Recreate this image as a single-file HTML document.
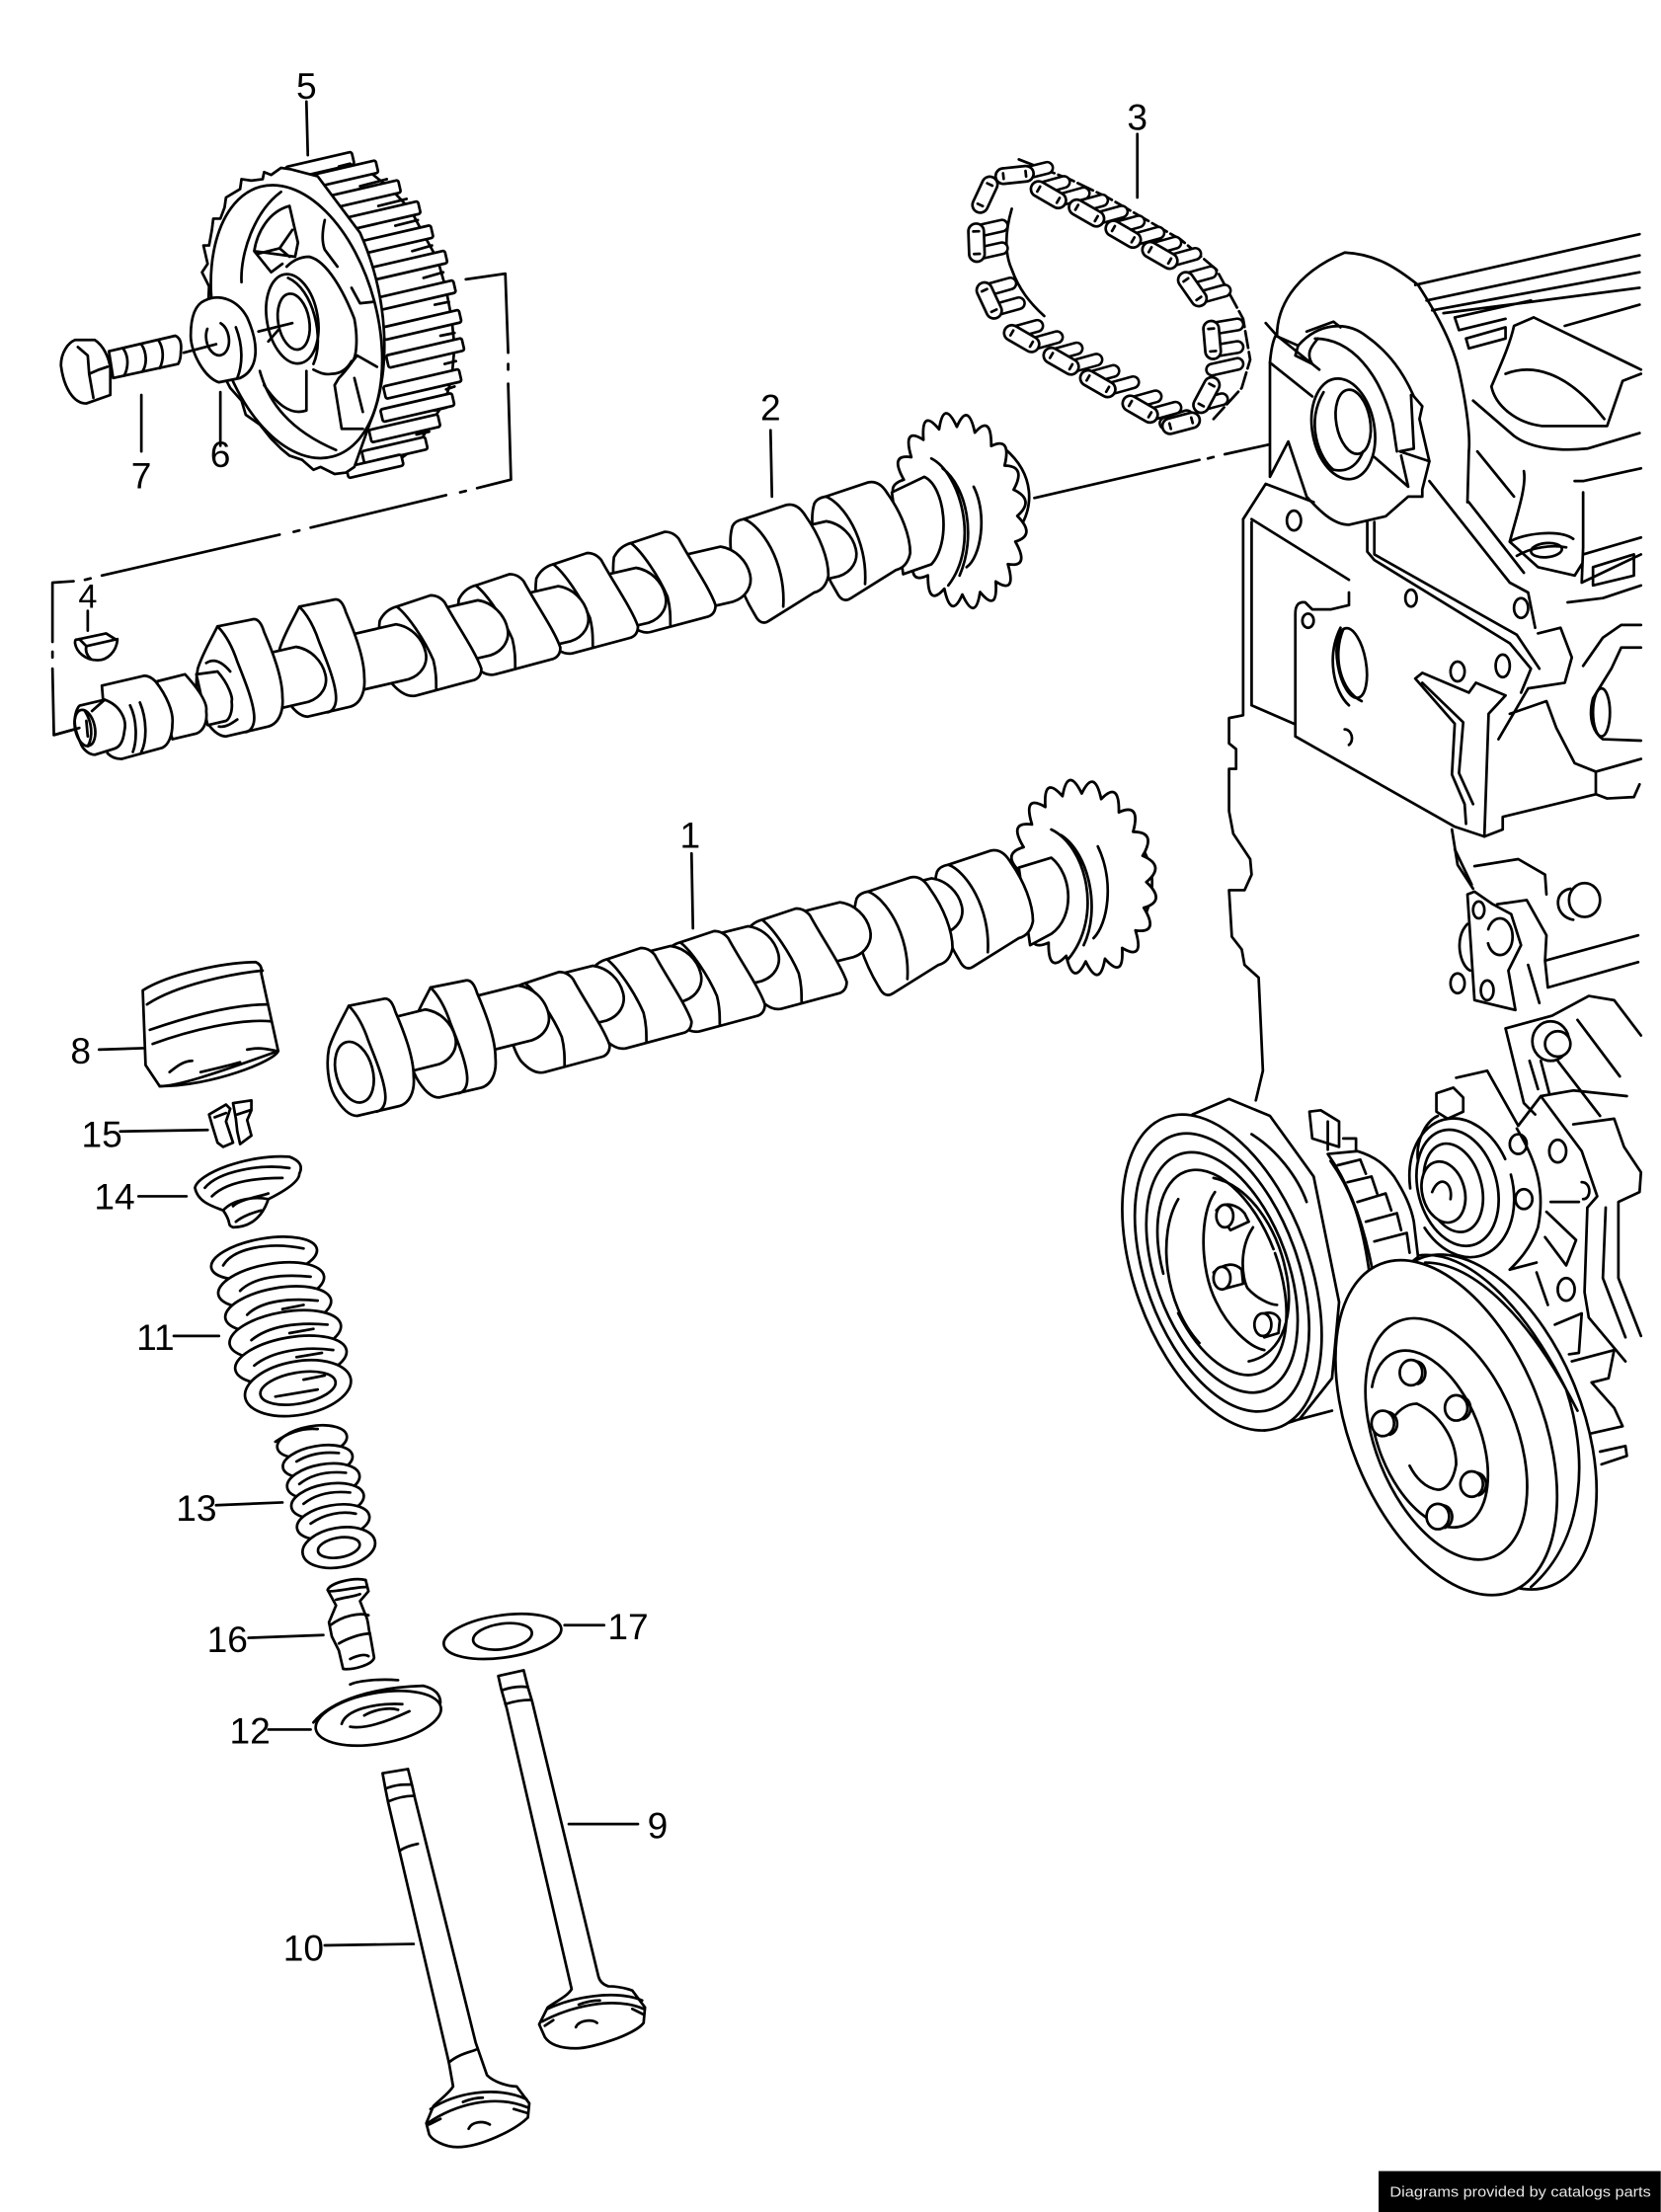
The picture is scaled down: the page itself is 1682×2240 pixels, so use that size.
<!DOCTYPE html>
<html><head><meta charset="utf-8"><style>
html,body{margin:0;padding:0;background:#fff}
svg{display:block}
.d path,.d ellipse,.d line,.d rect,.d polyline{fill:none;stroke:#000;stroke-width:1.9;stroke-linejoin:round;stroke-linecap:round}
.d .w{fill:#fff}
.d path.ro{stroke-width:10;stroke-linecap:round}
.d path.ri{stroke:#fff;stroke-width:6.4;stroke-linecap:round}
text{font-family:"Liberation Sans",sans-serif;font-size:26px;fill:#000;text-anchor:middle}
</style></head><body>
<svg class="d" width="1682" height="2240" viewBox="0 0 1177 1568" xmlns="http://www.w3.org/2000/svg">
<defs>
<path id="gear" class="w" vector-effect="non-scaling-stroke" style="stroke-width:2.8" d="M87,-13.8Q118,0 87,13.8Q112,36.5 78.4,40Q95.5,69.4 62.2,62.2Q69.4,95.5 40,78.4Q36.5,112 13.8,87Q0,118 -13.8,87Q-36.5,112 -40,78.4Q-69.4,95.5 -62.2,62.2Q-95.5,69.4 -78.4,40Q-112,36.5 -87,13.8Q-118,0 -87,-13.8Q-112,-36.5 -78.4,-40Q-95.5,-69.4 -62.2,-62.2Q-69.4,-95.5 -40,-78.4Q-36.5,-112 -13.8,-87Q0,-118 13.8,-87Q36.5,-112 40,-78.4Q69.4,-95.5 62.2,-62.2Q95.5,-69.4 78.4,-40Q112,-36.5 87,-13.8Z"/>
<g id="L"><path class="w" d="M0,0L25,-5Q30,-6 33,4C39,18 46,36 46,50C47,61 43,69 36,71L6,78Q-2,78 -10,64C-15,55 -16,40 -14,30C-11,20 -4,8 0,0Z"/><path d="M0,0C5,5 10,13 14,25C20,40 26,55 26,65C26,70 24,74 20,75"/></g>
<g id="R"><path class="w" d="M0,0L24,-8Q30,-8 34,-3C42,12 56,32 60,44Q60,50 55,52L14,63Q6,65 -3,55C-10,45 -14,25 -12,10Q-8,2 0,0Z"/><path d="M0,0C8,6 20,24 26,38C28,46 28,52 28,58"/></g>
<g id="D"><path class="w" d="M0,0L30,-10Q38,-12 44,-2C54,12 60,28 60,40Q58,50 50,52L18,72Q12,76 8,68C0,55 -14,25 -8,5Q-6,1 0,0Z"/><path d="M0,0C12,4 30,30 28,62"/></g>
<path id="sh" class="w" d="M-40,-20H0C10,-16 16,-6 16,4C16,12 10,19 0,20H-40Z"/>
<g id="link"><rect class="w" x="-13.5" y="-5.5" width="27" height="11" rx="5.5"/><path d="M-8,-2v4M8,-2v4"/></g>
<g id="pb"><ellipse class="w" cx="0" cy="0" rx="8" ry="9"/><path d="M4,-8C11,-7 13,5 5,8"/></g>
</defs>

<!-- Part 5 gear -->
<path d="M245,118L262,122L277,134L291,149L300,166L310,184L316,205L320,226L322,246L320,268L315,285L305,300L296,316L280,328L255,334"/>
<g>
<rect class="w" x="-48" y="-4.5" width="48" height="9" rx="1.5" transform="translate(250,112) rotate(-13)"/>
<rect class="w" x="-50" y="-4.5" width="50" height="9" rx="1.5" transform="translate(267,118) rotate(-13)"/>
<rect class="w" x="-52" y="-4.5" width="52" height="9" rx="1.5" transform="translate(283,132) rotate(-13)"/>
<rect class="w" x="-60" y="-4.5" width="60" height="9" rx="1.5" transform="translate(297,147) rotate(-13)"/>
<rect class="w" x="-56" y="-4.5" width="56" height="9" rx="1.5" transform="translate(306,164) rotate(-13)"/>
<rect class="w" x="-58" y="-4.5" width="58" height="9" rx="1.5" transform="translate(316,182) rotate(-13)"/>
<rect class="w" x="-58" y="-4.5" width="58" height="9" rx="1.5" transform="translate(322,203) rotate(-13)"/>
<rect class="w" x="-56" y="-4.5" width="56" height="9" rx="1.5" transform="translate(326,224) rotate(-13)"/>
<rect class="w" x="-55" y="-4.5" width="55" height="9" rx="1.5" transform="translate(328,244) rotate(-13)"/>
<rect class="w" x="-55" y="-4.5" width="55" height="9" rx="1.5" transform="translate(326,266) rotate(-13)"/>
<rect class="w" x="-52" y="-4.5" width="52" height="9" rx="1.5" transform="translate(321,283) rotate(-13)"/>
<rect class="w" x="-50" y="-4.5" width="50" height="9" rx="1.5" transform="translate(311,298) rotate(-13)"/>
<rect class="w" x="-46" y="-4.5" width="46" height="9" rx="1.5" transform="translate(302,314) rotate(-13)"/>
<rect class="w" x="-40" y="-4" width="40" height="8" rx="1.5" transform="translate(285,326) rotate(-13)"/>
</g>
<path d="M240,118L248,116M255,132L274,127M268,146L288,141M280,160L296,156M292,178L306,174M300,197L314,193M308,216L318,214M312,238L322,236M315,258L323,256M316,276L322,274M308,291L316,289M295,308L304,306"/>
<path class="w" d="M206,120L199,119L192,124L187,122L186,127L178,128L171,127L170,134L160,140L159,147L156,155L151,155L150,163L148,174L144,174L147,187L143,193L148,203L147,225L150,250L163,275L171,284L174,294L184,301L192,311L199,318L205,323L214,326L222,333L227,331L237,336L245,335L251,331L262,300C278,262 275,210 255,165L225,125Z"/>
<ellipse class="w" cx="210" cy="228" rx="57" ry="99" transform="rotate(-15 210 228)"/>
<path d="M171,200C170,180 180,150 199,136M205,146L211,172L209,182L180,178L192,193L200,187M205,146C190,150 182,165 180,178M182,180L198,176L207,163M198,176L205,182"/>
<path d="M230,156C228,165 228,172 230,177L239,189M249,204L255,215L264,214M203,189C208,184 214,182 219,182C232,185 244,208 251,226C254,242 252,256 249,256C245,263 240,265 235,265C230,266 226,264 222,262"/>
<ellipse cx="207" cy="226" rx="18" ry="32" transform="rotate(-10 207 226)"/>
<path d="M204,197C222,205 230,240 222,258"/>
<ellipse cx="208" cy="228" rx="11" ry="20" transform="rotate(-10 208 228)"/>
<path d="M253,252L267,260M253,252C248,258 246,262 240,268L237,273L242,304L257,304M251,268L257,292M187,273C195,285 205,295 217,291L217,263M184,263C190,285 205,305 238,319"/>
<path d="M183,235L207,229M190,242L197,234"/>
<!-- washer 6 -->
<path class="w" d="M145,213C155,208 168,212 175,225C184,245 183,262 170,268L155,271C145,268 135,250 135,238C135,225 138,216 145,213Z"/>
<path d="M167,232C172,245 172,258 168,268"/>
<ellipse cx="154" cy="240" rx="8" ry="12" transform="rotate(-10 154 240)" stroke-dasharray="40 12"/>
<path d="M130,250L153,244"/>
<!-- bolt 7 -->
<path class="w" d="M77,249L124,238Q129,240 128,249Q128,255 126,258L80,268Z"/>
<path d="M87,247C91,252 91,260 88,266M100,244C104,250 104,258 101,263M112,241C116,247 116,255 113,261"/>
<path class="w" d="M43,259C43,250 48,243 53,241L67,241C73,245 77,253 78,261L78,280L61,286C52,286 45,275 43,259Z"/>
<path d="M55,246L62,252L63,265L70,262M63,265L66,282M70,262L76,260"/>

<!-- dash-dot frame -->
<path d="M330,198L358,194L360,250M360,258V262M360,272L362,340L338,346M330,348L326,349M316,351L220,374M212,376L208,377M198,379L72,408M64,410L60,411M52,412L37,413V455M37,462V466M37,474L38,521L56,516"/>
<path d="M733,353L850,326M856,325L860,324M868,322L918,311"/>

<!-- Cam 2 -->
<path d="M712,318C732,335 736,360 717,382"/>
<use href="#gear" transform="translate(680,362) rotate(-8) scale(.46,.68)"/>
<path d="M660,325C680,335 695,385 672,415M668,332C685,345 692,380 680,408M690,345C700,365 695,395 685,402"/>
<path class="w" d="M632,349L655,338C670,345 674,385 660,400L640,407Z"/>
<use href="#D" x="585" y="352"/>
<use href="#sh" transform="translate(590,389) rotate(-13)"/>
<use href="#D" x="527" y="368"/>
<use href="#sh" transform="translate(515,407) rotate(-13)"/>
<use href="#R" x="447" y="385"/>
<use href="#sh" transform="translate(455,422) rotate(-13)"/>
<use href="#R" x="392" y="400"/>
<use href="#sh" transform="translate(400,435) rotate(-13)"/>
<use href="#R" x="337" y="415"/>
<use href="#sh" transform="translate(343,445) rotate(-13)"/>
<use href="#R" x="281" y="430"/>
<use href="#sh" transform="translate(285,462) rotate(-13)"/>
<use href="#L" x="212" y="430"/>
<use href="#sh" transform="translate(214,478) rotate(-13)"/>
<use href="#L" x="154" y="444"/>
<path class="w" d="M139,478L154,476C162,485 165,495 164,497C165,505 162,510 160,511L147,514Z"/>
<path d="M146,470C152,466 158,470 163,476M155,515C160,516 165,512 168,510"/>
<path class="w" d="M111,483L131,478C140,488 147,498 146,504C147,512 144,518 139,520L122,524Z"/>
<path class="w" d="M72,486L102,479Q106,479 110,483C118,493 123,505 122,513C122,522 119,528 115,530L86,538Q80,538 76,534Z"/>
<path d="M92,500C97,510 97,525 94,533M99,498C104,510 104,525 100,533"/>
<path class="w" d="M53,508C54,502 56,500 57,500L74,496C85,500 90,510 88,518C87,527 84,530 80,531L67,535C62,535 58,530 57,527C54,520 52,514 53,508Z"/>
<path d="M74,496L65,504M60,504C65,512 66,522 62,529"/>
<ellipse cx="60" cy="516" rx="7" ry="13" transform="rotate(-12 60 516)"/>
<path d="M61,511L62,522M38,521L56,516"/>
<!-- key 4 -->
<path class="w" d="M53,456C53,452 54,454 56,453L75,449L83,454C82,462 76,468 69,468C60,468 54,462 53,456Z"/>
<path d="M61,458L83,453M61,458C60,462 62,465 64,467M56,453L61,458"/>

<!-- Cam 1 -->
<path d="M800,590C822,610 822,640 800,668"/>
<use href="#gear" transform="translate(768,622) rotate(-8) scale(.5,.68)"/>
<path d="M745,588C770,600 782,650 757,680M752,592C772,605 780,645 768,670M778,600C790,625 785,655 775,665"/>
<path class="w" d="M722,615L745,608C760,620 762,650 745,662L730,670Z"/>
<use href="#D" x="672" y="613"/>
<use href="#sh" transform="translate(665,642) rotate(-14)"/>
<use href="#D" x="615" y="632"/>
<use href="#sh" transform="translate(600,659) rotate(-14)"/>
<use href="#R" x="540" y="652"/>
<use href="#sh" transform="translate(535,676) rotate(-14)"/>
<use href="#R" x="482" y="668"/>
<use href="#sh" transform="translate(480,690) rotate(-14)"/>
<use href="#R" x="430" y="680"/>
<use href="#sh" transform="translate(425,704) rotate(-14)"/>
<use href="#R" x="372" y="697"/>
<use href="#sh" transform="translate(372,718) rotate(-14)"/>
<use href="#L" x="305" y="700"/>
<use href="#sh" transform="translate(306,735) rotate(-14)"/>
<use href="#L" x="247" y="713"/>
<ellipse cx="251" cy="760" rx="13" ry="22" transform="rotate(-15 251 760)"/>

<!-- Tappet 8 -->
<path class="w" d="M101,702C120,690 160,682 181,682Q186,684 185,690L197,745C195,752 150,770 113,770L103,755Z"/>
<path d="M104,712C125,698 165,690 186,688M106,730C135,720 165,712 189,712M108,740C135,730 170,722 192,724"/>
<path d="M113,770C125,770 150,762 197,745M120,760C125,756 130,752 136,752M175,744C185,742 190,744 196,745M142,760C150,758 160,756 170,753"/>
<!-- 15 -->
<path class="w" d="M148,790L160,783L163,786L160,795L165,810L158,813L154,810L150,797Z"/>
<path class="w" d="M165,782L178,780L178,787L175,794L178,805L170,811L168,802L167,793Z"/>
<path d="M152,792L160,789M168,790L177,787"/>
<!-- 14 -->
<path class="w" d="M138,842C140,832 175,818 205,820Q216,824 212,832C212,838 200,845 190,850C185,865 175,870 165,870C160,868 165,868 158,858C150,855 140,852 138,842Z"/>
<path d="M145,842C155,830 185,825 205,828M150,848C160,838 180,835 200,835M158,858C165,850 180,848 190,850M167,866C172,862 178,860 185,858M165,855C170,850 185,848 190,846"/>
<!-- Spring 11 -->
<g>
<ellipse class="w" cx="187" cy="892" rx="38" ry="14" transform="rotate(-10 187 892)"/><path d="M158,897C165,885 190,880 215,885"/>
<ellipse class="w" cx="192" cy="911" rx="38" ry="15" transform="rotate(-10 192 911)"/><path d="M170,915C180,905 200,903 220,905"/>
<ellipse class="w" cx="197" cy="928" rx="38" ry="15" transform="rotate(-10 197 928)"/><path d="M175,932C185,922 205,920 225,922M200,928L215,925"/>
<ellipse class="w" cx="202" cy="946" rx="40" ry="16" transform="rotate(-10 202 946)"/><path d="M178,950C190,940 210,937 232,939M205,945L222,942"/>
<ellipse class="w" cx="206" cy="964" rx="40" ry="16" transform="rotate(-10 206 964)"/><path d="M180,968C192,958 215,954 236,957M210,962L228,959"/>
<ellipse class="w" cx="211" cy="984" rx="38" ry="19" transform="rotate(-10 211 984)"/><ellipse cx="211" cy="984" rx="27" ry="11" transform="rotate(-10 211 984)"/><path d="M195,990L225,985M215,978L230,975"/>
</g>
<!-- Spring 13 -->
<g>
<ellipse class="w" cx="221" cy="1022" rx="25" ry="11" transform="rotate(-10 221 1022)"/><path d="M195,1022C205,1015 215,1012 225,1013"/>
<ellipse class="w" cx="225" cy="1036" rx="25" ry="11" transform="rotate(-10 225 1036)"/><path d="M210,1036C220,1030 230,1029 240,1030"/>
<ellipse class="w" cx="229" cy="1050" rx="26" ry="12" transform="rotate(-10 229 1050)"/><path d="M212,1052C222,1044 235,1043 245,1044"/>
<ellipse class="w" cx="232" cy="1064" rx="26" ry="12" transform="rotate(-10 232 1064)"/><path d="M215,1066C225,1058 238,1057 248,1058"/>
<ellipse class="w" cx="236" cy="1079" rx="26" ry="12" transform="rotate(-10 236 1079)"/><path d="M220,1080C230,1073 242,1071 252,1073"/>
<ellipse class="w" cx="240" cy="1097" rx="26" ry="14" transform="rotate(-10 240 1097)"/><ellipse cx="240" cy="1097" rx="15" ry="7" transform="rotate(-10 240 1097)"/>
</g>
<!-- 16 -->
<path class="w" d="M232,1127C234,1122 250,1118 259,1120L261,1128L255,1135L259,1145C261,1148 261,1156 262,1158L265,1175C264,1180 250,1184 243,1183L240,1170L235,1160L233,1150L238,1138Z"/>
<path d="M233,1128C240,1128 252,1125 259,1125M238,1134C245,1132 250,1132 255,1130M234,1152C243,1145 255,1143 261,1145M240,1165C245,1162 255,1158 262,1158M248,1176C252,1174 258,1172 261,1174"/>
<!-- 12 -->
<ellipse class="w" cx="268" cy="1218" rx="45" ry="18" transform="rotate(-10 268 1218)"/>
<path d="M222,1221C235,1205 265,1196 300,1195Q312,1198 312,1207M248,1194C255,1191 270,1190 282,1191M242,1222C245,1212 265,1207 285,1208M248,1224C258,1226 275,1220 290,1213M258,1216C265,1212 275,1210 282,1212"/>
<!-- 17 -->
<ellipse cx="356" cy="1160" rx="42" ry="15" transform="rotate(-8 356 1160)"/>
<ellipse cx="356" cy="1160" rx="21" ry="9" transform="rotate(-8 356 1160)"/>
<!-- Valve 9 -->
<path class="w" d="M353,1188L371,1184L374,1196L377,1206L424,1401C425,1405 428,1407 431,1408C440,1408 445,1410 448,1411L457,1423L456,1434C450,1442 420,1452 408,1452C398,1452 390,1450 386,1444L382,1435L388,1423C395,1418 402,1415 405,1410L359,1211L355,1197Z"/>
<path d="M356,1198C362,1196 368,1195 374,1196M358,1208C364,1206 370,1205 376,1205M388,1424C405,1416 435,1410 455,1418M384,1433C405,1422 435,1415 456,1424M386,1436L392,1432M448,1424L456,1428M410,1421C415,1419 420,1418 425,1418M408,1437C410,1432 420,1431 423,1434"/>
<!-- Valve 10 -->
<path class="w" d="M271,1257L289,1254L292,1266L294,1275L337,1448L345,1471C350,1476 360,1479 366,1479L375,1491L374,1501C365,1510 340,1522 324,1522C315,1522 306,1517 304,1513L302,1505L307,1493C313,1487 318,1484 321,1479L318,1462L275,1278L273,1268Z"/>
<path d="M273,1268C280,1265 285,1265 291,1265M275,1277C282,1274 288,1273 293,1273M283,1312C287,1309 292,1308 296,1307M318,1462C325,1456 332,1455 337,1453M305,1495C322,1484 350,1478 373,1488M303,1505C322,1492 350,1484 374,1494M304,1506L312,1502M364,1495L374,1498M328,1490C333,1488 338,1487 342,1487M332,1509C334,1504 342,1503 347,1506"/>

<!-- leaders -->
<path d="M217,72L218,110M100,280L100,320M156,278L156,316M806,95L806,140M546,305L547,352M490,605L491,658M62,433L62,447M70,744L101,743M85,802L147,801M98,848L132,848M123,947L155,947M153,1067L200,1065M176,1161L229,1159M400,1152L428,1152M190,1226L220,1226M403,1293L452,1293M230,1379L293,1378"/>

<!-- Chain 3 -->
<path stroke-dasharray="12 3" d="M722,113L758,127L785,140L811,155L837,170L862,191L881,226L886,255L880,275L860,297"/>
<path d="M717,148C712,165 712,180 717,191C722,205 730,215 740,224"/>
<path class="ro" d="M736,134l18,-5M750,142l18,-5M763,147l18,-5M777,155l18,-5M789,162l18,-5M803,170l18,-5M815,177l18,-5M829,185l18,-5M840,198l18,-5M850,211l18,-5M859,233l18,-3M859,249l18,-3M859,262l18,-4M851,287l15,-4M826,300l15,-5M801,286l18,-5M815,294l18,-5M771,268l18,-5M785,276l18,-5M745,252l18,-5M759,260l18,-5M717,236l18,-5M731,244l18,-5M698,206l18,-5M704,220l18,-5M692,164l18,-4M692,180l18,-4M712,125l18,-3M726,123l16,-4"/>
<path class="ri" d="M736,134l18,-5M750,142l18,-5M763,147l18,-5M777,155l18,-5M789,162l18,-5M803,170l18,-5M815,177l18,-5M829,185l18,-5M840,198l18,-5M850,211l18,-5M859,233l18,-3M859,249l18,-3M859,262l18,-4M851,287l15,-4M826,300l15,-5M801,286l18,-5M815,294l18,-5M771,268l18,-5M785,276l18,-5M745,252l18,-5M759,260l18,-5M717,236l18,-5M731,244l18,-5M698,206l18,-5M704,220l18,-5M692,164l18,-4M692,180l18,-4M712,125l18,-3M726,123l16,-4"/>
<use href="#link" transform="translate(698,138) rotate(-65)"/>
<use href="#link" transform="translate(719,124) rotate(-6)"/>
<use href="#link" transform="translate(743,138) rotate(30)"/>
<use href="#link" transform="translate(770,151) rotate(30)"/>
<use href="#link" transform="translate(796,166) rotate(30)"/>
<use href="#link" transform="translate(822,181) rotate(30)"/>
<use href="#link" transform="translate(845,205) rotate(55)"/>
<use href="#link" transform="translate(859,241) rotate(85)"/>
<use href="#link" transform="translate(855,280) rotate(-62)"/>
<use href="#link" transform="translate(837,300) rotate(-15)"/>
<use href="#link" transform="translate(808,290) rotate(30)"/>
<use href="#link" transform="translate(778,272) rotate(30)"/>
<use href="#link" transform="translate(752,256) rotate(30)"/>
<use href="#link" transform="translate(724,240) rotate(30)"/>
<use href="#link" transform="translate(701,213) rotate(65)"/>
<use href="#link" transform="translate(692,172) rotate(88)"/>

<!-- Engine upper -->
<path d="M1003,202L1162,166M1011,213L1162,181M1015,220L1162,193M1023,222L1162,204M1031,225L1034,234L1067,226M1031,225L1085,213M1039,240L1041,247L1067,240L1067,232L1039,240M1109,231L1162,216"/>
<path d="M897,229L905,238C905,220 915,195 953,179C975,180 990,190 1005,202C1020,225 1030,245 1034,263C1040,290 1042,310 1041,320L1040,356"/>
<path d="M1087,225L1073,231C1070,245 1062,262 1057,274C1060,288 1075,300 1093,302L1139,302L1150,270L1163,265M1087,225L1163,262M1067,265C1085,258 1110,262 1137,297"/>
<path d="M1044,284L1073,309C1085,318 1105,320 1125,318L1162,307M1047,320L1073,352M1080,334C1082,345 1075,365 1070,384L1090,402L1116,408L1121,400M1116,341L1122,341L1163,332M1122,349V388L1121,413L1163,393M1122,393L1163,381M1129,402L1158,393V408L1129,415Z"/>
<ellipse cx="1096" cy="390" rx="11" ry="5" transform="rotate(-5 1096 390)"/>
<path d="M1070,384C1080,378 1105,375 1115,382M1075,394C1085,388 1100,386 1110,388"/>
<path d="M1013,341L1070,413L1083,420L1088,445M1041,356L1080,406"/>
<path class="w" d="M900,257C901,245 903,240 904,238L920,245C935,228 955,228 968,238C985,250 995,265 1002,281L1008,288L1006,297L1013,327L1008,347L1008,352L998,352L982,366L956,372C945,372 935,362 926,352L913,313L900,338Z"/>
<path d="M900,257L930,281M905,238L935,262M920,245L918,252L930,258C925,250 930,245 934,240M926,235L945,228L950,232M1000,280L1002,318L992,320L1013,327M974,324L998,345M993,323L998,345"/>
<path d="M932,240C958,240 978,265 987,300L990,320"/>
<ellipse cx="952" cy="304" rx="22" ry="36" transform="rotate(-10 952 304)"/>
<path d="M938,278C925,300 935,325 945,333C955,335 962,330 966,320"/>
<ellipse cx="959" cy="299" rx="12" ry="23" transform="rotate(-10 959 299)"/>
<path d="M897,343L931,356M881,368L897,343M887,368L956,411M881,368V500M887,370V500M881,500V507L871,509V527L876,531V545L871,545V575L874,591L886,609L887,620L882,631L871,631L873,664L880,673L882,684L892,693L895,759L890,780M887,500L917,513"/>
<ellipse cx="917" cy="369" rx="5" ry="7"/><ellipse cx="1000" cy="424" rx="4" ry="6"/><ellipse cx="1078" cy="431" rx="5" ry="7"/>
<path d="M969,370V391L974,397L1070,456L1085,474L1078,491M974,370V393L1075,450L1091,474"/>
<path d="M918,522V435Q918,426 925,427L930,432L943,432L956,429V420M918,522L1031,586L1052,593L1065,588V579L1131,563V547L1163,538M1029,588L1033,613L1044,630"/>
<ellipse cx="927" cy="440" rx="4" ry="5"/>
<ellipse cx="958" cy="470" rx="10" ry="25" transform="rotate(-10 958 470)"/>
<path d="M950,445C940,465 945,490 956,500M952,446C944,465 950,490 965,497"/>
<path d="M953,517C958,517 960,525 956,528"/>
<path d="M1003,481L1031,513L1029,549L1038,570L1039,584M1003,481L1008,477L1041,491L1046,484L1067,493L1055,506L1052,593M1008,484L1037,512L1034,548L1044,570"/>
<ellipse cx="1033" cy="476" rx="5" ry="7"/><ellipse cx="1065" cy="472" rx="5" ry="8"/>
<path d="M1090,449L1106,445L1114,466L1109,484L1083,488L1062,524M1070,506L1096,497L1103,516L1116,541L1131,547M1131,563L1139,566L1158,565L1162,556"/>
<path d="M1163,459H1149L1142,474L1129,495C1125,510 1130,520 1136,524L1163,525M1122,472L1136,452L1149,443H1163M1111,427L1136,424L1163,415"/>
<ellipse cx="1135" cy="505" rx="6" ry="17"/>

<!-- Engine mid right -->
<path d="M1031,602L1043,627M1045,614L1076,609L1095,620L1096,634"/>
<ellipse cx="1123" cy="638" rx="11" ry="12"/><path d="M1113,630C1100,632 1102,650 1115,652"/>
<path class="w" d="M1040,634L1045,709L1074,716L1069,688L1078,670L1071,648L1058,641L1045,632Z"/>
<ellipse cx="1063" cy="664" rx="9" ry="13" stroke-dasharray="30 10"/><ellipse cx="1048" cy="645" rx="4" ry="6"/><ellipse cx="1054" cy="702" rx="4.5" ry="7"/><ellipse cx="1033" cy="697" rx="5" ry="7"/>
<path d="M1040,655C1030,665 1035,685 1042,688M1061,641L1082,638L1096,663L1095,681L1161,663M1097,700L1161,682M1095,681L1097,700M1083,684L1091,711"/>
<path d="M1100,720L1126,706L1144,709L1163,734M1118,723L1148,763M1067,729L1100,720M1067,729L1080,782L1088,790M1104,752L1134,791M1084,752L1090,772M1092,752L1098,775"/>
<ellipse cx="1099" cy="738" rx="13" ry="14"/><ellipse class="w" cx="1104" cy="740" rx="9" ry="9"/>
<path d="M1076,798L1054,759L1032,764M1076,798L1092,777L1115,773L1153,777M1115,797L1144,793L1151,813L1163,831L1162,845L1147,852V906L1163,947M1092,777L1121,816L1132,848L1125,856L1123,916L1126,934L1152,965M1138,856L1136,906L1152,948"/>
<path d="M1005,823C1003,810 1010,795 1019,791M1075,800C1090,825 1095,845 1090,870C1085,885 1075,895 1070,900"/>
<ellipse cx="1036" cy="842" rx="36" ry="50" transform="rotate(-15 1036 842)" stroke-dasharray="115 30"/>
<ellipse cx="1033" cy="842" rx="28" ry="42" transform="rotate(-15 1033 842)"/>
<ellipse cx="1030" cy="842" rx="20" ry="32" transform="rotate(-15 1030 842)"/>
<ellipse class="w" cx="1023" cy="845" rx="15" ry="22" transform="rotate(-15 1023 845)"/>
<path d="M1015,845C1020,832 1030,838 1028,850"/>
<path class="w" d="M1018,775L1030,771L1037,778L1037,788L1026,793L1018,788Z"/>
<ellipse cx="1076" cy="811" rx="6" ry="7"/><ellipse cx="1080" cy="850" rx="6" ry="7"/><ellipse cx="1104" cy="816" rx="6" ry="8"/><ellipse cx="1110" cy="914" rx="6" ry="8"/>
<path d="M1121,838C1128,838 1128,850 1122,850M1096,859L1117,879L1110,897L1095,877M1099,852H1119M1089,902L1097,925M1070,900L1089,895M1102,939L1121,931L1119,959L1112,960"/>
<path d="M1114,965L1144,957L1140,977L1128,980L1144,998L1150,1011L1128,1016M1134,1029L1152,1025L1153,1032L1135,1038"/>

<!-- Timing gear -->
<path class="w" d="M928,788L936,787L949,795V813L930,807Z"/>
<path d="M941,795V815M952,807H961V816"/>
<path class="w" d="M941,818L962,816C975,820 982,826 988,834C995,845 1000,855 1002,866L1005,891L975,915C970,880 960,845 941,818Z"/>
<path d="M943,823C955,840 965,860 971,906M948,826L964,822L968,832M955,838L972,834L976,846M962,852L982,846L986,858M968,866L990,860L993,872M974,880L997,874L999,888"/>

<!-- Pulley 1 -->
<path class="w" d="M845,790L871,779L900,791L931,834L949,923L944,977L921,1006L896,1014L845,900Z"/>
<path d="M887,804C905,815 920,835 926,852M921,1006L944,1000"/>
<ellipse class="w" cx="866" cy="902" rx="62" ry="117" transform="rotate(-20 866 902)"/>
<ellipse cx="866" cy="902" rx="54" ry="103" transform="rotate(-20 866 902)"/>
<ellipse cx="866" cy="902" rx="47" ry="89" transform="rotate(-20 866 902)"/>
<ellipse cx="866" cy="902" rx="40" ry="76" transform="rotate(-20 866 902)" stroke-dasharray="170 30"/>
<path d="M861,845C850,860 850,900 862,923C870,940 885,955 896,957M888,870C878,885 880,905 884,913C890,920 900,925 905,925M835,850C820,875 825,925 850,952"/>
<path d="M860,835C885,840 905,870 911,900C918,930 910,960 885,965"/>
<path class="w" d="M862,858C868,850 878,855 882,860L885,866L872,872Z"/>
<ellipse class="w" cx="868" cy="862" rx="6" ry="8"/>
<path class="w" d="M860,902C868,895 875,895 880,900L881,910L866,914Z"/>
<ellipse class="w" cx="866" cy="906" rx="6" ry="8"/>
<path class="w" d="M890,935C897,928 905,930 907,936L906,945L896,948Z"/>
<ellipse class="w" cx="895" cy="939" rx="6" ry="8"/>

<!-- Pulley 2 -->
<ellipse class="w" cx="1053" cy="1008" rx="68" ry="125" transform="rotate(-22 1053 1008)"/>
<path d="M1005,890C1040,885 1080,925 1110,985C1125,1030 1125,1090 1085,1125M1010,895C1045,895 1085,935 1118,1000"/>
<ellipse class="w" cx="1025" cy="1012" rx="68" ry="125" transform="rotate(-22 1025 1012)"/>
<ellipse cx="1025" cy="1020" rx="50" ry="90" transform="rotate(-22 1025 1020)"/>
<ellipse cx="1013" cy="1020" rx="36" ry="66" transform="rotate(-22 1013 1020)" stroke-dasharray="185 30"/>
<path d="M984,1010C990,1000 997,995 1004,995C1020,1002 1032,1020 1032,1038C1030,1050 1025,1056 1019,1056C1010,1055 1003,1047 999,1039"/>
<use href="#pb" x="1000" y="973"/><use href="#pb" x="1032" y="998"/><use href="#pb" x="1043" y="1052"/><use href="#pb" x="1019" y="1075"/><use href="#pb" x="980" y="1009"/>

<!-- labels -->
<text x="217" y="70">5</text><text x="806" y="92">3</text><text x="546" y="298">2</text><text x="489" y="601">1</text>
<text x="62" y="431" style="font-size:24px">4</text><text x="100" y="346">7</text><text x="156" y="331">6</text><text x="57" y="754">8</text>
<text x="72" y="813">15</text><text x="81" y="857">14</text><text x="110" y="957">11</text><text x="139" y="1078">13</text>
<text x="161" y="1171">16</text><text x="177" y="1236">12</text><text x="445" y="1162">17</text><text x="466" y="1303">9</text><text x="215" y="1390">10</text>

<rect x="977" y="1539" width="200" height="29" style="fill:#000;stroke:none"/>
<text x="1077.5" y="1557" textLength="185" lengthAdjust="spacingAndGlyphs" style="font-size:10.5px;fill:#e6e6e6">Diagrams provided by catalogs parts</text>
</svg>
</body></html>
